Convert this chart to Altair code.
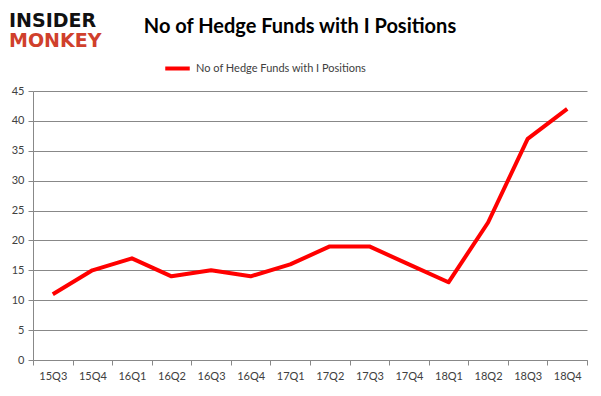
import altair as alt
import pandas as pd

quarters = ["15Q3", "15Q4", "16Q1", "16Q2", "16Q3", "16Q4", "17Q1", "17Q2",
            "17Q3", "17Q4", "18Q1", "18Q2", "18Q3", "18Q4"]
funds = [11, 15, 17, 14, 15, 14, 16, 19, 19, 16, 13, 23, 37, 42]
series_name = "No of Hedge Funds with I Positions"
y_ticks = [0, 5, 10, 15, 20, 25, 30, 35, 40, 45]

df = pd.DataFrame({"quarter": quarters, "funds": funds, "series": series_name})

W, H = 554, 269
FONT = "Lato"

base = alt.Chart(df)

line = base.mark_line(strokeWidth=4, strokeJoin="round").encode(
    x=alt.X("quarter:N", sort=quarters, bandPosition=0.5,
            scale=alt.Scale(type="band", paddingInner=0, paddingOuter=0),
            axis=alt.Axis(title=None, labelAngle=0, tickBand="extent",
                          grid=False, domainColor="#888888", tickColor="#888888",
                          tickSize=5, labelPadding=5, labelFontSize=11,
                          labelColor="#404040", labelFont=FONT)),
    y=alt.Y("funds:Q", scale=alt.Scale(domain=[0, 45], nice=False),
            axis=alt.Axis(title=None, values=y_ticks, grid=True, gridColor="#888888",
                          domainColor="#888888", tickColor="#888888", tickSize=5,
                          labelPadding=4, labelFontSize=11, labelColor="#404040",
                          labelFont=FONT)),
    color=alt.Color("series:N",
                    scale=alt.Scale(domain=[series_name], range=["#ff0000"]),
                    legend=alt.Legend(title=None, orient="none", legendX=130, legendY=-37,
                                      symbolType="stroke", symbolStrokeWidth=4,
                                      symbolSize=600, labelFontSize=11, labelLimit=0,
                                      labelColor="#404040", labelFont=FONT)),
)

title = alt.Chart(pd.DataFrame({"t": ["No of Hedge Funds with I Positions"]})).mark_text(
    fontSize=20, fontWeight="bold", font=FONT, color="#000000", align="center",
    baseline="middle").encode(x=alt.value(267), y=alt.value(-64), text="t:N")

logo1 = alt.Chart(pd.DataFrame({"t": ["INSIDER"]})).mark_text(
    fontSize=19, fontWeight="bold", font="DejaVu Sans", color="#111111", align="left",
    baseline="middle").encode(x=alt.value(-24), y=alt.value(-70), text="t:N")
logo2 = alt.Chart(pd.DataFrame({"t": ["MONKEY"]})).mark_text(
    fontSize=19, fontWeight="bold", font="DejaVu Sans", color="#d0402c", align="left",
    baseline="middle").encode(x=alt.value(-24), y=alt.value(-50), text="t:N")

chart = alt.layer(line, title, logo1, logo2).properties(
    width=W, height=H,
    padding={"left": 25, "top": 83, "right": 6, "bottom": 28},
    autosize=alt.AutoSizeParams(type="none"),
).configure_view(stroke=None)

chart.save("out.html", embed_options={"renderer": "svg", "actions": False})
